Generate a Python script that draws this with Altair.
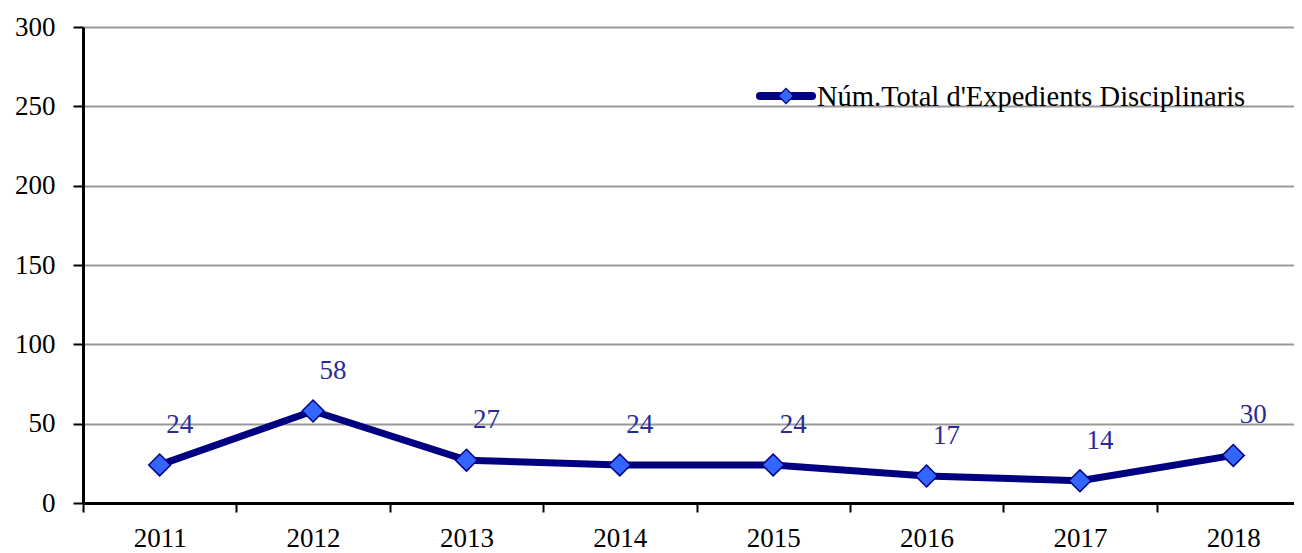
import altair as alt
import pandas as pd

years = ["2011", "2012", "2013", "2014", "2015", "2016", "2017", "2018"]
values = [24, 58, 27, 24, 24, 17, 14, 30]
series_name = "Núm.Total d'Expedients Disciplinaris"
y_ticks = [0, 50, 100, 150, 200, 250, 300]

df = pd.DataFrame({"year": years, "value": values})

FONT = "Liberation Serif"
NAVY = "#000080"
BLUE = "#3366FF"
LABEL = "#2B2B95"

x_enc = alt.X(
    "year:N",
    sort=years,
    bandPosition=0.5,
    scale=alt.Scale(type="band", paddingInner=0, paddingOuter=0, range=[0, 1227]),
    axis=alt.Axis(
        title=None,
        labelAngle=0,
        tickBand="extent",
        grid=False,
        domainColor="black",
        domainWidth=3,
        tickColor="black",
        tickWidth=2,
        tickSize=9,
        labelPadding=13,
        labelFont=FONT,
        labelFontSize=27,
        labelColor="black",
    ),
)
y_enc = alt.Y(
    "value:Q",
    scale=alt.Scale(domain=[0, 300], nice=False),
    axis=alt.Axis(
        title=None,
        values=y_ticks,
        grid=True,
        gridColor="#999999",
        gridWidth=2,
        domainColor="black",
        domainWidth=3,
        tickColor="black",
        tickWidth=2,
        tickSize=10,
        labelPadding=18,
        labelFont=FONT,
        labelFontSize=27,
        labelColor="black",
    ),
)

base = alt.Chart(df).encode(x=x_enc, y=y_enc)

line = base.mark_line(color=NAVY, strokeWidth=7, strokeJoin="round")
points = base.mark_point(
    shape="diamond", size=480, filled=True, fill=BLUE, stroke=NAVY, strokeWidth=1.5, opacity=1
)
labels = base.mark_text(
    dx=20, dy=-40, fontSize=27, font=FONT, color=LABEL
).encode(text="value:Q")

leg_df = pd.DataFrame({"name": [series_name]})
leg = alt.Chart(leg_df)
leg_line = leg.mark_rule(color=NAVY, strokeWidth=8, strokeCap="round").encode(
    x=alt.value(677), x2=alt.value(729), y=alt.value(69)
)
leg_pt = leg.mark_point(
    shape="diamond", size=230, filled=True, fill=BLUE, stroke=NAVY, strokeWidth=1.2, opacity=1
).encode(x=alt.value(703), y=alt.value(69))
leg_txt = leg.mark_text(
    align="left", baseline="middle", fontSize=28.5, font=FONT, color="black", dy=1
).encode(x=alt.value(734), y=alt.value(69), text="name:N")

chart = (
    alt.layer(line, points, labels, leg_line, leg_pt, leg_txt)
    .properties(
        width=1211,
        height=476,
        autosize=alt.AutoSizeParams(type="none"),
        padding={"left": 75, "top": 19, "right": 0, "bottom": 50},
    )
    .configure_view(stroke=None)
    .configure(background="white")
)

chart.save("out.html", embed_options={"renderer": "svg", "actions": False})
